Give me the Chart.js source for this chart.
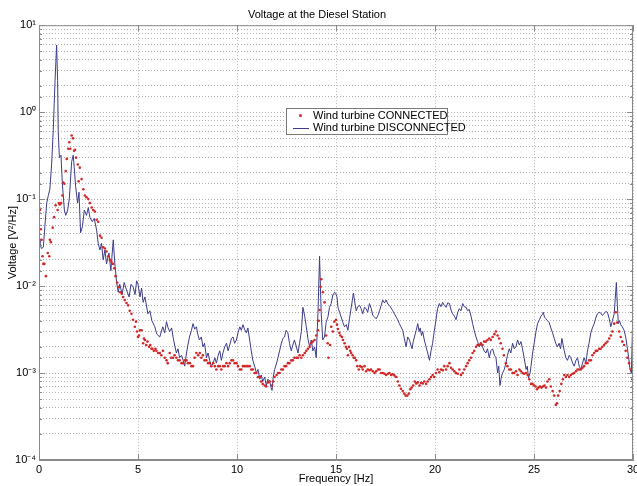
<!DOCTYPE html>
<html>
<head>
<meta charset="utf-8">
<script src="https://cdn.jsdelivr.net/npm/chart.js@4/dist/chart.umd.min.js"></script>
<style>
  body { margin: 0; background: #fff; }
  #wrap { position: relative; width: 637px; height: 486px; overflow: hidden; }
  #legend {
    position: absolute; left: 286px; top: 108px; width: 160px; height: 24px;
    border: 1px solid #7a7a7a; background: #fff; padding-top: 1px;
    font: 11px Arial, "Liberation Sans", sans-serif; line-height: 11.5px;
    white-space: nowrap; color: #000;
  }
  #legend .row { height: 11.5px; position: relative; padding-left: 26px; }
  #legend .dot { position: absolute; left: 12px; top: 4px; width: 3px; height: 3px; border-radius: 50%; background: rgb(210,40,40); }
  #legend .line { position: absolute; left: 6px; top: 6px; width: 16px; height: 1px; background: rgb(60,60,140); }
</style>
</head>
<body>
<div id="wrap">
  <canvas id="chart" width="637" height="486"></canvas>
  <div id="legend">
    <div class="row"><span class="dot"></span>Wind turbine CONNECTED</div>
    <div class="row"><span class="line"></span>Wind turbine DISCONNECTED</div>
  </div>
</div>
<script>
// frequency ticks (Hz) and voltage decades
const xTicks = [0, 5, 10, 15, 20, 25, 30];
const yDecades = [1e-4, 1e-3, 1e-2, 1e-1, 1, 10];

// Wind turbine CONNECTED (red dots)
const freqConnected = [
  0.05, 0.09, 0.13, 0.18, 0.22, 0.27, 0.35, 0.44, 0.52, 0.55, 0.60, 0.69, 0.76, 0.84, 0.94, 1.00, 1.05, 1.12, 1.18, 1.23,
  1.28, 1.35, 1.40, 1.48, 1.53, 1.58, 1.65, 1.72, 1.77, 1.82, 1.87, 1.96, 2.00, 2.06, 2.15, 2.24, 2.32, 2.40, 2.49, 2.57,
  2.66, 2.74, 2.82, 2.91, 2.99, 3.08, 3.16, 3.24, 3.33, 3.41, 3.50, 3.58, 3.66, 3.74, 3.80, 3.87, 3.95, 4.03, 4.10, 4.18,
  4.25, 4.33, 4.42, 4.50, 4.58, 4.67, 4.75, 4.84, 4.90, 4.95, 5.00, 5.05, 5.10, 5.18, 5.26, 5.30, 5.35, 5.42, 5.48, 5.56,
  5.62, 5.68, 5.73, 5.80, 5.88, 5.93, 6.02, 6.10, 6.18, 6.26, 6.35, 6.44, 6.50, 6.60, 6.68, 6.77, 6.85, 6.94, 7.02, 7.10,
  7.20, 7.28, 7.36, 7.45, 7.52, 7.62, 7.70, 7.78, 7.86, 7.95, 8.04, 8.12, 8.20, 8.28, 8.36, 8.45, 8.54, 8.62, 8.70, 8.80,
  8.88, 8.96, 9.05, 9.13, 9.21, 9.30, 9.38, 9.47, 9.55, 9.63, 9.72, 9.80, 9.88, 9.97, 10.05, 10.14, 10.22, 10.30, 10.38, 10.47,
  10.55, 10.64, 10.72, 10.80, 10.89, 10.98, 11.06, 11.15, 11.22, 11.30, 11.40, 11.48, 11.56, 11.65, 11.77, 11.83, 11.90, 12.00, 12.07, 12.15,
  12.24, 12.32, 12.40, 12.48, 12.57, 12.65, 12.74, 12.82, 12.90, 13.00, 13.08, 13.16, 13.25, 13.33, 13.42, 13.50, 13.58, 13.67, 13.75, 13.83,
  13.92, 14.00, 14.09, 14.13, 14.17, 14.22, 14.26, 14.34, 14.42, 14.50, 14.58, 14.62, 14.70, 14.76, 14.84, 14.92, 15.00, 15.05, 15.10, 15.17,
  15.22, 15.30, 15.35, 15.43, 15.50, 15.55, 15.60, 15.66, 15.72, 15.77, 15.84, 15.90, 15.96, 16.02, 16.08, 16.15, 16.22, 16.30, 16.35, 16.44,
  16.52, 16.60, 16.69, 16.77, 16.86, 16.95, 17.03, 17.12, 17.20, 17.28, 17.36, 17.45, 17.53, 17.62, 17.70, 17.78, 17.87, 17.95, 18.04, 18.12,
  18.20, 18.28, 18.37, 18.45, 18.52, 18.60, 18.68, 18.75, 18.82, 18.90, 18.98, 19.05, 19.13, 19.22, 19.30, 19.38, 19.46, 19.55, 19.63, 19.72,
  19.80, 19.88, 19.96, 20.05, 20.13, 20.22, 20.30, 20.39, 20.47, 20.56, 20.64, 20.73, 20.81, 20.89, 20.98, 21.06, 21.15, 21.23, 21.31, 21.40,
  21.48, 21.57, 21.65, 21.73, 21.82, 21.90, 21.98, 22.07, 22.15, 22.24, 22.32, 22.40, 22.48, 22.57, 22.65, 22.74, 22.82, 22.91, 23.00, 23.08,
  23.16, 23.24, 23.32, 23.41, 23.48, 23.58, 23.66, 23.75, 23.83, 23.92, 24.00, 24.09, 24.17, 24.26, 24.34, 24.42, 24.50, 24.60, 24.68, 24.76,
  24.85, 24.93, 25.00, 25.08, 25.15, 25.22, 25.30, 25.38, 25.45, 25.53, 25.60, 25.68, 25.77, 25.85, 25.94, 26.02, 26.10, 26.16, 26.22, 26.30,
  26.38, 26.46, 26.53, 26.61, 26.69, 26.78, 26.86, 26.95, 27.03, 27.12, 27.20, 27.28, 27.37, 27.45, 27.53, 27.62, 27.70, 27.78, 27.87, 27.95,
  28.04, 28.12, 28.20, 28.29, 28.37, 28.45, 28.54, 28.62, 28.71, 28.80, 28.88, 28.96, 29.05, 29.13, 29.20, 29.30, 29.38, 29.46, 29.55, 29.63,
  29.72, 29.80, 29.90, 29.97
];
const voltConnected = [
  0.075, 0.045, 0.034, 0.022, 0.018, 0.018, 0.013, 0.024, 0.022, 0.034, 0.032, 0.047, 0.062, 0.085, 0.075, 0.09, 0.087, 0.09, 0.11, 0.155,
  0.15, 0.21, 0.29, 0.38, 0.45, 0.38, 0.54, 0.50, 0.36, 0.37, 0.30, 0.25, 0.16, 0.23, 0.17, 0.13, 0.11, 0.105, 0.10, 0.09,
  0.08, 0.075, 0.072, 0.058, 0.055, 0.038, 0.036, 0.028, 0.027, 0.025, 0.022, 0.020, 0.019, 0.018, 0.016, 0.013, 0.011, 0.0098, 0.0085, 0.0082,
  0.0075, 0.0069, 0.0064, 0.0060, 0.0052, 0.0048, 0.0041, 0.0034, 0.0039, 0.0030, 0.0026, 0.0027, 0.0031, 0.0031, 0.0022, 0.0025, 0.0024, 0.0021, 0.0023, 0.0020,
  0.0021, 0.0019, 0.0019, 0.0018, 0.0019, 0.0018, 0.0017, 0.0017, 0.0016, 0.0018, 0.0015, 0.0014, 0.0013, 0.0017, 0.0015, 0.0015, 0.0016, 0.0015, 0.0014, 0.0014,
  0.0013, 0.0013, 0.0014, 0.0014, 0.0013, 0.0013, 0.0012, 0.0012, 0.0015, 0.0017, 0.0016, 0.0017, 0.0015, 0.0016, 0.0014, 0.0014, 0.0013, 0.0013, 0.0012, 0.0013,
  0.0012, 0.0011, 0.0012, 0.0012, 0.0011, 0.0012, 0.0012, 0.0013, 0.0012, 0.0013, 0.0014, 0.0014, 0.0013, 0.0013, 0.0012, 0.0011, 0.0011, 0.0012, 0.0012, 0.0012,
  0.0012, 0.0012, 0.0011, 0.0011, 0.0010, 0.0010, 0.0009, 0.0009, 0.0008, 0.00075, 0.00072, 0.0007, 0.00078, 0.0008, 0.00072, 0.0008, 0.0009, 0.00095, 0.0010, 0.0010,
  0.0011, 0.0011, 0.0012, 0.0012, 0.0013, 0.0013, 0.0014, 0.0014, 0.0015, 0.0015, 0.0015, 0.0016, 0.0015, 0.0016, 0.0017, 0.0018, 0.0019, 0.0020, 0.0022, 0.0023,
  0.0024, 0.0027, 0.0031, 0.0040, 0.0053, 0.0098, 0.012, 0.0085, 0.0065, 0.0027, 0.0022, 0.0015, 0.0021, 0.0034, 0.0030, 0.0039, 0.0041, 0.0036, 0.0032, 0.0029,
  0.0027, 0.0026, 0.0024, 0.0022, 0.0020, 0.0019, 0.0016, 0.0020, 0.0018, 0.0017, 0.0016, 0.0015, 0.0015, 0.0014, 0.0012, 0.0011, 0.0012, 0.00117, 0.0011, 0.0012,
  0.00105, 0.0011, 0.00108, 0.0011, 0.00105, 0.0010, 0.00105, 0.0011, 0.0011, 0.0010, 0.0010, 0.00098, 0.00095, 0.00098, 0.0010, 0.00095, 0.00097, 0.00094, 0.0009, 0.0008,
  0.00072, 0.00066, 0.00062, 0.00058, 0.00055, 0.00055, 0.00058, 0.00065, 0.00068, 0.00072, 0.0008, 0.00076, 0.00078, 0.00072, 0.00077, 0.00076, 0.0008, 0.00075, 0.0008, 0.00085,
  0.0009, 0.00095, 0.0009, 0.0010, 0.0011, 0.00102, 0.0011, 0.00108, 0.0012, 0.0011, 0.0012, 0.0013, 0.00115, 0.0011, 0.00105, 0.0010, 0.00098, 0.0011, 0.00095, 0.0010,
  0.0011, 0.0012, 0.0013, 0.0014, 0.0015, 0.0017, 0.0018, 0.0020, 0.0021, 0.0021, 0.0022, 0.0021, 0.0023, 0.0023, 0.0024, 0.0025, 0.0024, 0.0026, 0.0028, 0.0030,
  0.0027, 0.0025, 0.0022, 0.0019, 0.0016, 0.0013, 0.0012, 0.0011, 0.0011, 0.0010, 0.0010, 0.00105, 0.00095, 0.0011, 0.00105, 0.0010, 0.00098, 0.0010, 0.00095, 0.00085,
  0.00075, 0.00075, 0.00072, 0.0007, 0.00065, 0.00068, 0.0007, 0.00068, 0.0007, 0.00072, 0.00068, 0.0008, 0.00085, 0.0007, 0.00062, 0.00055, 0.00043, 0.00045, 0.00055, 0.00062,
  0.00075, 0.00085, 0.00095, 0.0009, 0.00095, 0.0009, 0.00095, 0.00098, 0.0010, 0.00105, 0.0011, 0.0011, 0.0011, 0.00115, 0.0012, 0.0013, 0.0013, 0.0014, 0.0014, 0.0016,
  0.0017, 0.0018, 0.0018, 0.0019, 0.0019, 0.0020, 0.0021, 0.0022, 0.0023, 0.0025, 0.0027, 0.0030, 0.0037, 0.0050, 0.0038, 0.0030, 0.0026, 0.0023, 0.0021, 0.0018,
  0.0015, 0.0013, 0.0011, 0.00085
];

// Wind turbine DISCONNECTED (blue line)
const freqDisconnected = [
  0.00, 0.05, 0.12, 0.22, 0.30, 0.39, 0.47, 0.55, 0.64, 0.72, 0.81, 0.89, 0.94, 0.97, 1.03, 1.11, 1.18, 1.28, 1.35, 1.45,
  1.53, 1.65, 1.73, 1.78, 1.85, 1.95, 2.02, 2.10, 2.19, 2.29, 2.40, 2.49, 2.57, 2.69, 2.79, 2.91, 2.99, 3.08, 3.16, 3.24,
  3.33, 3.41, 3.53, 3.63, 3.75, 3.83, 3.92, 4.00, 4.08, 4.20, 4.30, 4.42, 4.55, 4.65, 4.76, 4.85, 4.93, 5.00, 5.10, 5.18,
  5.26, 5.35, 5.50, 5.60, 5.70, 5.85, 5.95, 6.10, 6.25, 6.35, 6.44, 6.52, 6.60, 6.70, 6.77, 6.85, 6.94, 7.02, 7.10, 7.20,
  7.28, 7.36, 7.45, 7.52, 7.60, 7.70, 7.78, 7.86, 7.95, 8.02, 8.10, 8.20, 8.28, 8.36, 8.46, 8.54, 8.62, 8.70, 8.80, 8.88,
  8.96, 9.05, 9.13, 9.21, 9.29, 9.38, 9.47, 9.55, 9.63, 9.72, 9.80, 9.88, 9.97, 10.05, 10.14, 10.22, 10.30, 10.38, 10.47, 10.55,
  10.64, 10.72, 10.80, 10.89, 10.98, 11.06, 11.15, 11.22, 11.30, 11.40, 11.48, 11.56, 11.65, 11.72, 11.77, 11.83, 11.90, 12.00, 12.07, 12.15,
  12.24, 12.32, 12.40, 12.48, 12.57, 12.65, 12.74, 12.82, 12.90, 13.00, 13.08, 13.16, 13.25, 13.33, 13.42, 13.50, 13.58, 13.67, 13.75, 13.83,
  13.92, 14.00, 14.09, 14.17, 14.25, 14.33, 14.42, 14.50, 14.60, 14.67, 14.76, 14.84, 14.93, 14.98, 15.05, 15.10, 15.18, 15.26, 15.35, 15.43,
  15.52, 15.60, 15.68, 15.77, 15.88, 15.95, 16.02, 16.10, 16.19, 16.27, 16.35, 16.44, 16.52, 16.60, 16.69, 16.78, 16.86, 16.95, 17.03, 17.12,
  17.20, 17.28, 17.36, 17.45, 17.53, 17.62, 17.70, 17.78, 17.87, 17.95, 18.04, 18.12, 18.20, 18.28, 18.37, 18.45, 18.54, 18.62, 18.71, 18.78,
  18.84, 18.90, 18.96, 19.05, 19.13, 19.20, 19.25, 19.32, 19.38, 19.46, 19.55, 19.63, 19.72, 19.80, 19.88, 19.96, 20.05, 20.13, 20.22, 20.30,
  20.39, 20.47, 20.56, 20.64, 20.73, 20.81, 20.89, 20.98, 21.06, 21.15, 21.23, 21.31, 21.40, 21.48, 21.57, 21.65, 21.73, 21.82, 21.90, 21.98,
  22.07, 22.15, 22.24, 22.32, 22.40, 22.48, 22.57, 22.65, 22.74, 22.82, 22.91, 23.00, 23.08, 23.16, 23.22, 23.28, 23.35, 23.41, 23.50, 23.58,
  23.66, 23.75, 23.83, 23.92, 24.00, 24.09, 24.17, 24.26, 24.34, 24.42, 24.50, 24.60, 24.66, 24.72, 24.80, 24.85, 24.93, 25.01, 25.10, 25.18,
  25.27, 25.35, 25.42, 25.47, 25.53, 25.60, 25.68, 25.77, 25.85, 25.94, 26.02, 26.10, 26.18, 26.27, 26.34, 26.41, 26.47, 26.53, 26.61, 26.69,
  26.78, 26.86, 26.95, 27.03, 27.12, 27.20, 27.28, 27.37, 27.45, 27.53, 27.62, 27.70, 27.78, 27.87, 27.95, 28.04, 28.12, 28.20, 28.29, 28.37,
  28.45, 28.54, 28.62, 28.71, 28.80, 28.88, 28.96, 29.05, 29.10, 29.16, 29.21, 29.26, 29.32, 29.38, 29.46, 29.55, 29.63, 29.72, 29.78, 29.85,
  29.92, 29.97, 30.00
];
const voltDisconnected = [
  0.035, 0.031, 0.027, 0.028, 0.05, 0.09, 0.11, 0.13, 0.26, 0.62, 2.3, 5.9, 2.3, 0.6, 0.30, 0.32, 0.15, 0.075, 0.065, 0.075,
  0.10, 0.27, 0.32, 0.23, 0.14, 0.09, 0.12, 0.041, 0.048, 0.075, 0.065, 0.08, 0.062, 0.055, 0.06, 0.044, 0.031, 0.026, 0.031, 0.020,
  0.026, 0.018, 0.024, 0.015, 0.034, 0.018, 0.011, 0.0085, 0.0105, 0.008, 0.011, 0.009, 0.0075, 0.0105, 0.0097, 0.008, 0.0115, 0.0105, 0.0075, 0.0095,
  0.0065, 0.0075, 0.0048, 0.0052, 0.0040, 0.0034, 0.0028, 0.0026, 0.0034, 0.0029, 0.0039, 0.0033, 0.0030, 0.0033, 0.0026, 0.0021, 0.0017, 0.0019, 0.0015, 0.0016,
  0.0014, 0.0012, 0.0017, 0.0021, 0.0026, 0.0031, 0.0037, 0.0032, 0.0034, 0.0028, 0.0024, 0.0026, 0.0020, 0.0022, 0.0015, 0.0017, 0.0014, 0.0012, 0.0013, 0.0015,
  0.0013, 0.0016, 0.0018, 0.0014, 0.0017, 0.0020, 0.0022, 0.0018, 0.0021, 0.0025, 0.0026, 0.0022, 0.0024, 0.0029, 0.0034, 0.0031, 0.0036, 0.0032, 0.0029, 0.0033,
  0.0024, 0.0018, 0.0014, 0.0012, 0.0010, 0.0011, 0.00085, 0.00095, 0.0008, 0.0009, 0.00072, 0.00085, 0.0008, 0.00068, 0.00063, 0.0009, 0.0011, 0.0013, 0.0015, 0.0018,
  0.0022, 0.0025, 0.0026, 0.0031, 0.0029, 0.0022, 0.0018, 0.0021, 0.0024, 0.0020, 0.0017, 0.0022, 0.0030, 0.0057, 0.0045, 0.0034, 0.0025, 0.0020, 0.0024, 0.0018,
  0.0020, 0.0015, 0.0050, 0.022, 0.005, 0.0024, 0.0026, 0.0038, 0.0045, 0.0057, 0.0063, 0.0079, 0.0085, 0.0083, 0.0075, 0.0057, 0.0050, 0.0044, 0.0038, 0.0034,
  0.0036, 0.0031, 0.0042, 0.0057, 0.0083, 0.0065, 0.0052, 0.0058, 0.0060, 0.0055, 0.0048, 0.0057, 0.0055, 0.0050, 0.0063, 0.0055, 0.0046, 0.0044, 0.0042, 0.0046,
  0.0052, 0.0060, 0.0069, 0.0064, 0.0069, 0.0062, 0.0060, 0.0056, 0.0052, 0.0048, 0.0044, 0.0041, 0.0037, 0.0034, 0.0031, 0.0025, 0.0020, 0.0026, 0.0024, 0.0021,
  0.0019, 0.0023, 0.0026, 0.0031, 0.0037, 0.0030, 0.0033, 0.0027, 0.0030, 0.0024, 0.0020, 0.0017, 0.0014, 0.0018, 0.0022, 0.0030, 0.0041, 0.0055, 0.0063, 0.0058,
  0.0065, 0.0060, 0.0057, 0.0064, 0.0063, 0.0053, 0.0048, 0.0045, 0.0041, 0.0050, 0.0055, 0.0052, 0.0063, 0.0058, 0.0057, 0.0052, 0.0054, 0.0045, 0.0037, 0.0031,
  0.0026, 0.0023, 0.0020, 0.0022, 0.0020, 0.0018, 0.0017, 0.0019, 0.0015, 0.0018, 0.0019, 0.0016, 0.0015, 0.0010, 0.0012, 0.00072, 0.0009, 0.0010, 0.0011, 0.0013,
  0.0016, 0.0019, 0.0017, 0.0022, 0.0019, 0.0020, 0.0024, 0.0021, 0.0023, 0.0019, 0.0015, 0.0011, 0.0012, 0.00088, 0.0010, 0.0012, 0.0017, 0.0022, 0.0030, 0.0037,
  0.0041, 0.0045, 0.0047, 0.0050, 0.0044, 0.0042, 0.0040, 0.0038, 0.0033, 0.0029, 0.0025, 0.0022, 0.0020, 0.0022, 0.0019, 0.0025, 0.0021, 0.0018, 0.0015, 0.0014,
  0.0016, 0.0015, 0.0013, 0.0012, 0.0014, 0.0015, 0.0012, 0.0011, 0.0013, 0.0015, 0.0013, 0.0018, 0.0022, 0.0029, 0.0033, 0.0037, 0.0043, 0.0048, 0.0050, 0.0049,
  0.0046, 0.0048, 0.0051, 0.0050, 0.0042, 0.0034, 0.0040, 0.0048, 0.0070, 0.011, 0.0060, 0.0037, 0.0040, 0.0036, 0.0034, 0.0031, 0.0026, 0.0019, 0.0015, 0.0011,
  0.0010, 0.0030, 0.0050
];

const font = { family: 'Arial, "Liberation Sans", sans-serif', size: 11 };
const sup = { '-': '\u207B', '0': '\u2070', '1': '\u00B9', '2': '\u00B2', '3': '\u00B3', '4': '\u2074' };

function decadeLabel(v) {
  const e = Math.round(Math.log10(v));
  if (!yDecades.some(d => Math.abs(d - v) / d < 1e-6)) return '';
  return '10' + String(e).split('').map(c => sup[c]).join('');
}

// box around the plot and short inside tick marks, like the matlab axes
const frame = {
  id: 'frame',
  afterDraw(chart) {
    const { ctx, chartArea: a, scales } = chart;
    ctx.save();
    ctx.strokeStyle = '#8a8a8a';
    ctx.lineWidth = 1;
    ctx.strokeRect(a.left + 0.5, a.top + 0.5, a.right - a.left - 1, a.bottom - a.top - 1);
    ctx.beginPath();
    scales.y.ticks.forEach(t => {
      const y = Math.round(scales.y.getPixelForValue(t.value)) + 0.5;
      const len = decadeLabel(t.value) ? 6 : 3;
      ctx.moveTo(a.left, y); ctx.lineTo(a.left + len, y);
      ctx.moveTo(a.right, y); ctx.lineTo(a.right - len, y);
    });
    scales.x.ticks.forEach(t => {
      const x = Math.round(scales.x.getPixelForValue(t.value)) + 0.5;
      ctx.moveTo(x, a.bottom); ctx.lineTo(x, a.bottom - 6);
      ctx.moveTo(x, a.top); ctx.lineTo(x, a.top + 6);
    });
    ctx.stroke();
    ctx.restore();
  }
};

new Chart(document.getElementById('chart'), {
  type: 'scatter',
  data: {
    datasets: [
      {
        label: 'Wind turbine CONNECTED',
        data: freqConnected.map((f, i) => ({ x: f, y: voltConnected[i] })),
        showLine: false,
        pointRadius: 1.3,
        pointBorderWidth: 0,
        pointBackgroundColor: 'rgb(210,40,40)',
        order: 0
      },
      {
        label: 'Wind turbine DISCONNECTED',
        data: freqDisconnected.map((f, i) => ({ x: f, y: voltDisconnected[i] })),
        showLine: true,
        borderColor: 'rgb(60,60,140)',
        borderWidth: 1,
        pointRadius: 0,
        order: 1
      }
    ]
  },
  options: {
    responsive: false,
    animation: false,
    layout: { padding: { right: 3 } },
    plugins: {
      legend: { display: false },
      tooltip: { enabled: false },
      title: {
        display: true,
        text: 'Voltage at the Diesel Station',
        color: '#000',
        font: { ...font, weight: 'normal' },
        padding: { top: 8, bottom: 4 }
      }
    },
    scales: {
      x: {
        type: 'linear',
        min: 0,
        max: 30,
        afterBuildTicks: s => { s.ticks = xTicks.map(v => ({ value: v })); },
        ticks: { color: '#000', font, padding: 3, maxRotation: 0 },
        grid: { color: '#b4b4b4', drawTicks: false },
        border: { color: '#8a8a8a', dash: [1, 2] },
        title: { display: true, text: 'Frequency [Hz]', color: '#000', font, padding: 0 },
        afterFit: s => { s.height = 26; s.paddingLeft = 0; s.paddingRight = 0; }
      },
      y: {
        type: 'logarithmic',
        min: 1e-4,
        max: 10,
        ticks: { color: '#000', font, padding: 3, autoSkip: false, callback: v => decadeLabel(v) },
        grid: { color: '#b4b4b4', drawTicks: false },
        border: { color: '#8a8a8a', dash: [1, 2] },
        title: { display: true, text: 'Voltage [V\u00B2/Hz]', color: '#000', font, padding: { top: 6, bottom: 0 } },
        afterFit: s => { s.width = 39; }
      }
    }
  },
  plugins: [frame]
});
</script>
</body>
</html>
